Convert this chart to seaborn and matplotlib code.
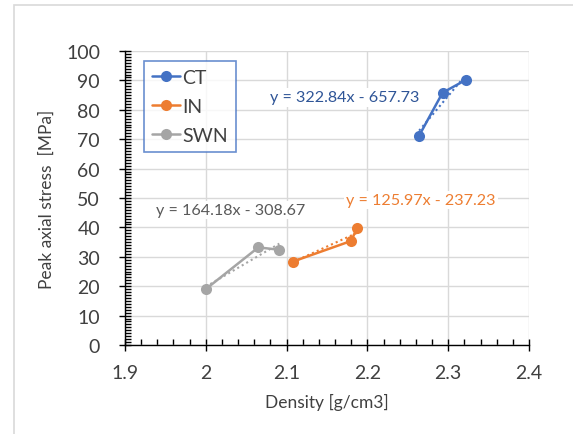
import numpy as np
import pandas as pd
import matplotlib
matplotlib.use("Agg")
import matplotlib.pyplot as plt
from matplotlib.patches import Rectangle
from matplotlib.ticker import MultipleLocator
import seaborn as sns

# ---- data ----
ct_density = [2.264, 2.293, 2.322]
ct_stress = [71.2, 85.8, 90.2]
in_density = [2.108, 2.180, 2.187]
in_stress = [28.4, 35.4, 39.8]
swn_density = [2.000, 2.065, 2.091]
swn_stress = [19.0, 33.2, 32.4]
series_names = ["CT", "IN", "SWN"]
equations = ["y = 322.84x - 657.73", "y = 125.97x - 237.23", "y = 164.18x - 308.67"]
x_ticks = [1.9, 2.0, 2.1, 2.2, 2.3, 2.4]
x_tick_labels = ["1.9", "2", "2.1", "2.2", "2.3", "2.4"]
y_ticks = list(range(0, 101, 10))

colors = {"CT": "#4472C4", "IN": "#ED7D31", "SWN": "#A5A5A5"}

df = pd.DataFrame({
    "density": ct_density + in_density + swn_density,
    "stress": ct_stress + in_stress + swn_stress,
    "series": ["CT"] * 3 + ["IN"] * 3 + ["SWN"] * 3,
})

sns.set_theme(style="white")
plt.rcParams["font.family"] = ["Lato", "DejaVu Sans"]

fig = plt.figure(figsize=(5.73, 4.35), dpi=100)
ax = fig.add_axes([125 / 573, 1 - 346 / 435, 404 / 573, 294 / 435])

ax.grid(True, color="#D9D9D9", lw=1)
ax.set_axisbelow(True)

sns.lineplot(data=df, x="density", y="stress", hue="series", palette=colors,
             marker="o", markersize=8, markeredgewidth=0, lw=1.8,
             sort=False, ax=ax, legend=True)

for name in series_names:
    sub = df[df["series"] == name]
    sns.regplot(data=sub, x="density", y="stress", scatter=False, ci=None,
                truncate=True, color=colors[name], ax=ax,
                line_kws=dict(ls=(0, (1, 1.5)), lw=1.5))

# equation labels
label_pos = {"CT": (2.172, 84.2), "IN": (2.266, 49.2), "SWN": (2.031, 45.8)}
label_col = {"CT": "#2F5597", "IN": "#ED7D31", "SWN": "#595959"}
for name, eq in zip(series_names, equations):
    x, y = label_pos[name]
    ax.text(x, y, eq, color=label_col[name], fontsize=11.6, ha="center", va="center",
            bbox=dict(facecolor="white", edgecolor="none", pad=1.5), zorder=5)

ax.set_xlim(1.9, 2.4)
ax.set_ylim(0, 100)
ax.set_xticks(x_ticks)
ax.set_xticklabels(x_tick_labels)
ax.set_yticks(y_ticks)
ax.xaxis.set_minor_locator(MultipleLocator(0.02))
ax.yaxis.set_minor_locator(MultipleLocator(1))
ax.tick_params(axis="both", which="major", direction="inout", length=8, width=1,
               color="black", labelsize=14, labelcolor="#404040")
ax.tick_params(axis="both", which="minor", direction="in", length=4, width=1, color="black")
ax.tick_params(axis="x", which="major", pad=10)
ax.tick_params(axis="y", which="major", pad=14)
ax.tick_params(bottom=True, left=True, which="both")

for s in ["top", "right"]:
    ax.spines[s].set_visible(False)
for s in ["left", "bottom"]:
    ax.spines[s].set_color("black")
    ax.spines[s].set_linewidth(1)

ax.set_xlabel("Density [g/cm3]", fontsize=12.5, color="#404040", labelpad=8)
ax.set_ylabel("Peak axial stress  [MPa]", fontsize=12.5, color="#404040", labelpad=8)

handles, labels = ax.get_legend_handles_labels()
leg = ax.legend(handles[:3], labels[:3], loc="upper left",
                bbox_to_anchor=(0.047, 0.966), frameon=True, fancybox=False,
                fontsize=14, handlelength=1.45, handletextpad=0.12,
                labelspacing=0.62, borderpad=0.4, borderaxespad=0)
leg.get_frame().set_edgecolor("#4472C4")
leg.get_frame().set_linewidth(1.2)
for t in leg.get_texts():
    t.set_color("#404040")

# outer chart border
fig.patches.append(Rectangle((14 / 573, -0.1), 2, 1 - 6 / 435 + 0.1,
                             transform=fig.transFigure, fill=False,
                             edgecolor="#D9D9D9", lw=1.2))

fig.savefig("out.png", dpi=100)
